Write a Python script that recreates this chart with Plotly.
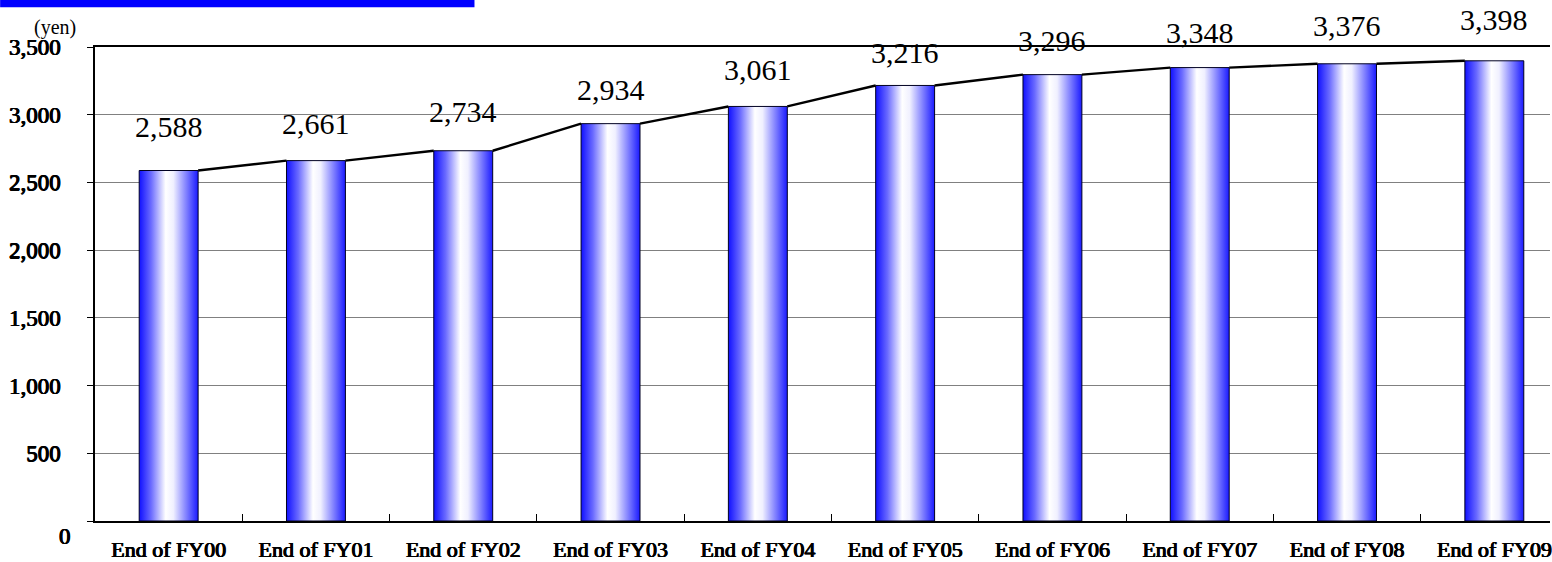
import plotly.graph_objects as go

# ---- data ---------------------------------------------------------------
categories = ["End of FY00", "End of FY01", "End of FY02", "End of FY03", "End of FY04",
              "End of FY05", "End of FY06", "End of FY07", "End of FY08", "End of FY09"]
values = [2588, 2661, 2734, 2934, 3061, 3216, 3296, 3348, 3376, 3398]
y_ticks = [0, 500, 1000, 1500, 2000, 2500, 3000, 3500]
unit_label = "(yen)"

# ---- layout constants ---------------------------------------------------
W, H = 1552, 562
M_L, M_T, M_B = 95, 47, 37
PLOT_W = W - M_L
PLOT_H = H - M_T - M_B
CAT_PX = 147.5                      # pixel width of one category slot
BAR_W = 0.4                         # bar width in category units
X_MAX = -0.5 + PLOT_W / CAT_PX      # plot area runs off the right edge
label_lift = [44, 37, 39, 34, 37, 33, 34, 35, 38, 41]   # value label offset above bar top, px

SERIF = "Liberation Serif"
# heavy serif look: regular serif face thickened with a tight text shadow
HEAVY = "0.6px 0 0 black, -0.4px 0 0 black, 0 0.3px 0 black"
bar_scale = [[0.0, "#1010ff"], [0.2, "#6a6aff"], [0.45, "#ffffff"],
             [0.58, "#f0f0ff"], [0.8, "#8080ff"], [1.0, "#1a1aff"]]

fig = go.Figure()

# gradient-filled columns
for i, v in enumerate(values):
    x0, x1 = i - BAR_W / 2, i + BAR_W / 2
    fig.add_trace(go.Scatter(
        x=[x0, x1, x1, x0, x0], y=[0, 0, v, v, 0],
        mode="lines", fill="toself",
        line=dict(color="#000022", width=1),
        fillgradient=dict(type="horizontal", colorscale=bar_scale),
        hoverinfo="skip", showlegend=False,
    ))

# series lines joining the tops of neighbouring columns
sx, sy = [], []
for i in range(len(values) - 1):
    sx += [i + BAR_W / 2, i + 1 - BAR_W / 2, None]
    sy += [values[i], values[i + 1], None]
fig.add_trace(go.Scatter(x=sx, y=sy, mode="lines",
                         line=dict(color="black", width=2.4),
                         hoverinfo="skip", showlegend=False))

# value labels
for i, v in enumerate(values):
    fig.add_annotation(x=i, y=v, text=f"{v:,}", showarrow=False,
                       yanchor="middle", yshift=label_lift[i],
                       font=dict(family=SERIF, size=30, color="black"))

# unit label and the zero label
fig.add_annotation(xref="paper", yref="paper", x=0, y=1, xshift=-40, yshift=20,
                   text=unit_label, showarrow=False, xanchor="center", yanchor="middle",
                   font=dict(family=SERIF, size=20, color="black"))
fig.add_annotation(xref="paper", yref="y", x=0, y=0, xshift=-22, yshift=-15,
                   text="0", showarrow=False, xanchor="right", yanchor="middle",
                   font=dict(family=SERIF, size=23, color="black", shadow=HEAVY))

# header band at the top-left corner
fig.add_shape(type="rect", xref="paper", yref="paper", layer="above",
              x0=-M_L / PLOT_W, x1=(475 - M_L) / PLOT_W,
              y0=(PLOT_H + M_T - 7) / PLOT_H, y1=(PLOT_H + M_T + 2) / PLOT_H,
              fillcolor="#0000ff", line=dict(width=0))

fig.update_layout(
    width=W, height=H,
    margin=dict(l=M_L, r=0, t=M_T, b=M_B, pad=0),
    plot_bgcolor="white", paper_bgcolor="white",
    showlegend=False,
    xaxis=dict(
        range=[-0.5, X_MAX], tickmode="array",
        tickvals=list(range(len(categories))), ticktext=categories,
        ticks="", showgrid=False, zeroline=False,
        showline=True, linecolor="black", linewidth=1.5, mirror=True,
        ticklabeloverflow="allow", ticklabelstandoff=8,
        tickfont=dict(family=SERIF, size=22, color="black", shadow=HEAVY),
        minor=dict(tickmode="array",
                   tickvals=[i + 0.5 for i in range(len(categories) - 1)],
                   ticks="inside", ticklen=7, tickwidth=1, tickcolor="black",
                   showgrid=False),
    ),
    yaxis=dict(
        range=[0, 3500], tickmode="array", tickvals=y_ticks,
        ticktext=["" if t == 0 else f"{t:,}" for t in y_ticks],
        ticks="outside", ticklen=6, tickcolor="black", tickwidth=1,
        showgrid=True, gridcolor="#808080", gridwidth=1.3,
        zeroline=False, showline=True, linecolor="black", linewidth=1.5,
        ticklabelstandoff=22,
        tickfont=dict(family=SERIF, size=23, color="black", shadow=HEAVY),
    ),
)

fig.write_html("out.html")
